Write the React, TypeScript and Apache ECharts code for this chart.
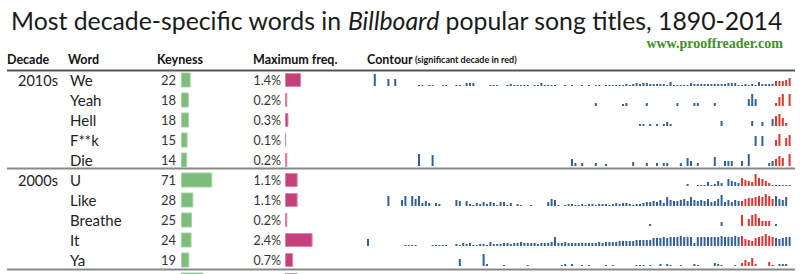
import React, { useEffect, useRef } from "react";
import * as echarts from "echarts";

// ---------- data ----------
const rowDecade = ["2010s", "", "", "", "", "2000s", "", "", "", "", ""];
const words = ["We", "Yeah", "Hell", "F**k", "Die", "U", "Like", "Breathe", "It", "Ya", ""];
const keyness = [22, 18, 18, 15, 14, 71, 28, 25, 24, 19, 51];
const maxFreq = [1.4, 0.2, 0.3, 0.1, 0.2, 1.1, 1.1, 0.2, 2.4, 0.7, 1.1];
const sigDecade = [2010, 2010, 2010, 2010, 2010, 2000, 2000, 2000, 2000, 2000];
const years: string[] = [];
for (let y = 1890; y <= 2014; y++) years.push(String(y));

// contour values, one per year 1890..2014 (relative, row max = 12)
const weContour = [
  0,0,12,0,0,0,7,0,7,0,
  0,0,0,0,0,1,1,0,1,1,
  0,0,1,1,0,0,1,1,0,3,
  3,3,0,0,0,0,1,1,1,0,
  0,1,2,1,1,1,1,1,0,1,
  1,3,1,1,1,1,0,0,1,0,
  1,0,0,1,0,1,0,1,1,0,
  1,1,1,1,1,1,2,1,2,3,
  2,3,3,2,2,2,2,2,1,4,
  1,1,1,1,1,3,2,2,2,2,
  2,2,2,2,2,2,3,3,3,1,
  1,2,1,2,1,4,2,2,2,2,
  5,5,5,6,8,
];
const yeahContour = [
  0,0,0,0,0,0,0,0,0,0,
  0,0,0,0,0,0,0,0,0,0,
  0,0,0,0,0,0,0,0,0,0,
  0,0,0,0,0,0,0,0,0,0,
  0,0,0,0,0,0,0,0,0,0,
  0,0,0,0,0,0,0,0,0,0,
  0,0,0,0,0,0,0,3,0,0,
  0,0,0,0,0,2,3,0,0,0,
  0,0,3,0,0,0,0,0,0,0,
  0,3,0,0,0,0,3,3,0,0,
  0,0,3,0,0,0,0,0,0,0,
  0,0,7,12,7,0,0,0,0,0,
  3,9,12,0,12,
];
const hellContour = [
  0,0,0,0,0,0,0,0,0,0,
  0,0,0,0,0,0,0,0,0,0,
  0,0,0,0,0,0,0,0,0,0,
  0,0,0,0,0,0,0,0,0,0,
  0,0,0,0,0,0,0,0,0,0,
  0,0,0,0,0,0,0,0,0,0,
  0,0,0,0,0,0,0,0,0,0,
  0,0,0,0,0,0,0,0,0,0,
  2,2,0,2,0,2,0,2,4,2,
  0,0,0,0,0,0,0,0,0,0,
  0,0,0,0,5,0,0,0,0,0,
  0,0,0,5,0,0,4,0,0,7,
  10,12,8,3,0,
];
const fkContour = [
  0,0,0,0,0,0,0,0,0,0,
  0,0,0,0,0,0,0,0,0,0,
  0,0,0,0,0,0,0,0,0,0,
  0,0,0,0,0,0,0,0,0,0,
  0,0,0,0,0,0,0,0,0,0,
  0,0,0,0,0,0,0,0,0,0,
  0,0,0,0,0,0,0,0,0,0,
  0,0,0,0,0,0,0,0,0,0,
  0,0,0,0,0,0,0,0,0,0,
  0,0,0,0,0,0,0,0,0,0,
  0,0,0,0,0,0,0,0,0,0,
  0,0,0,0,10,0,10,0,0,0,
  6,12,0,8,11,
];
const dieContour = [
  0,0,0,0,0,0,0,0,0,0,
  0,0,0,0,0,12,0,0,0,11,
  0,0,0,0,0,0,0,0,0,0,
  0,0,0,0,0,0,0,0,0,0,
  0,0,0,0,0,0,0,0,0,0,
  0,0,0,0,0,0,0,0,0,0,
  7,3,0,3,0,0,0,3,0,0,
  2,0,0,0,0,0,0,0,4,0,
  0,0,3,0,0,3,0,3,3,0,
  0,0,3,0,8,5,0,3,0,0,
  0,0,9,0,0,5,5,5,0,0,
  5,0,12,0,0,0,0,0,3,5,
  7,10,8,0,12,
];
const uContour = [
  0,0,0,0,0,0,0,0,0,0,
  0,0,0,0,0,0,0,0,0,0,
  0,0,0,0,0,0,0,0,0,0,
  0,0,0,0,0,0,0,0,0,0,
  0,0,0,0,0,0,0,0,0,0,
  0,0,0,0,0,0,0,0,0,0,
  0,0,0,0,0,0,0,0,0,0,
  0,0,0,0,0,0,0,0,0,0,
  0,0,0,0,0,0,0,0,0,0,
  0,0,0,0,2,0,0,1,1,1,
  4,1,2,5,3,0,7,5,4,3,
  8,6,5,4,12,8,7,5,3,1,
  1,1,1,1,1,
];
const likeContour = [
  0,0,0,0,0,0,10,0,0,0,
  6,10,0,10,7,10,3,5,3,0,
  3,2,0,0,0,0,6,5,0,5,
  2,1,3,2,4,2,4,3,1,4,
  4,1,3,0,2,1,0,0,1,0,
  0,0,0,4,7,6,1,0,1,2,
  2,1,1,2,1,2,2,1,2,2,
  2,1,2,3,2,3,3,2,1,2,
  2,3,4,4,5,4,6,3,9,6,
  5,5,6,7,5,9,6,5,6,5,
  7,4,5,7,11,4,6,4,6,5,
  5,7,8,8,9,10,9,12,10,7,
  10,7,6,9,0,
];
const breatheContour = [
  0,0,0,0,0,0,0,0,0,0,
  0,0,0,0,0,0,0,0,0,0,
  0,0,0,0,0,0,0,0,0,0,
  0,0,0,0,0,0,0,0,0,0,
  0,0,0,0,0,0,0,0,0,0,
  0,0,0,0,0,0,0,0,0,0,
  0,0,0,0,0,0,0,0,0,0,
  0,0,0,0,0,0,0,0,0,0,
  0,0,0,2,0,0,0,0,0,0,
  0,0,0,0,0,0,0,0,0,0,
  0,0,0,0,4,0,0,0,0,0,
  11,0,7,11,12,8,5,5,5,0,
  2,0,0,0,0,
];
const itContour = [
  7,0,0,0,0,0,0,0,0,0,
  0,1,1,1,1,0,0,0,0,1,
  1,1,1,1,0,0,2,1,3,2,
  3,1,1,2,2,1,4,2,2,2,
  3,3,2,3,3,4,3,3,3,3,
  2,3,3,3,4,9,3,3,4,3,
  3,3,3,3,3,3,3,3,4,3,
  4,4,4,4,5,5,5,5,5,6,
  6,6,6,6,8,8,8,9,8,9,
  9,9,10,9,9,9,3,9,9,9,
  9,9,9,9,10,9,9,9,10,9,
  10,7,6,5,8,9,10,12,10,9,
  8,7,8,9,9,
];
const yaContour = [
  0,0,0,0,0,0,0,0,0,0,
  0,0,0,0,0,0,0,0,0,0,
  0,0,0,0,0,0,0,7,0,0,
  0,0,0,0,12,2,0,0,0,0,
  1,0,0,0,0,0,0,1,0,0,
  0,0,0,0,0,0,0,1,2,0,
  2,0,0,1,0,1,0,0,0,0,
  1,0,1,0,0,0,0,0,0,1,
  1,1,0,1,0,0,2,0,2,1,
  0,0,1,0,0,0,2,1,0,0,
  0,0,3,2,1,0,0,0,1,0,
  3,6,4,8,2,0,0,0,4,1,
  0,2,2,2,0,
];
const contours = [
  weContour, yeahContour, hellContour, fkContour, dieContour,
  uContour, likeContour, breatheContour, itContour, yaContour,
];

// ---------- styles ----------
const FONT = "Lato, 'Open Sans', sans-serif";
const TEXT = "#222";
const GREEN = "#7dbd7d";
const PINK = "#c6407e";
const BLUE = "#34609a";
const RED = "#dd3530";

export default function App() {
  const ref = useRef<HTMLDivElement>(null);
  useEffect(() => {
    const chart = echarts.init(ref.current!, null, { renderer: "svg" });
    const rowIdx = words.map((_, i) => String(i));

    const grids: any[] = [
      { left: 181, top: 70, width: 44, height: 220, outerBoundsMode: "none" },
      { left: 285, top: 70, width: 115, height: 220, outerBoundsMode: "none" },
    ];
    const xAxes: any[] = [
      { type: "value", gridIndex: 0, min: 0, max: 100, show: false },
      { type: "value", gridIndex: 1, min: 0, max: 10, show: false },
    ];
    const yAxes: any[] = [
      {
        type: "category",
        gridIndex: 0,
        inverse: true,
        data: rowIdx,
        axisLine: { show: false },
        axisTick: { show: false },
        axisLabel: {
          interval: 0,
          align: "left",
          margin: 163,
          formatter: (_v: string, i: number) =>
            `{d|${rowDecade[i] || " "}}{w|${words[i] || " "}}`,
          rich: {
            d: { width: 52, fontSize: 14.5, fontFamily: FONT, color: TEXT },
            w: { fontSize: 15, fontFamily: FONT, color: TEXT },
          },
        },
      },
      {
        type: "category",
        gridIndex: 1,
        inverse: true,
        data: rowIdx,
        show: false,
      },
    ];
    const series: any[] = [
      {
        type: "bar",
        xAxisIndex: 0,
        yAxisIndex: 0,
        barWidth: 15,
        data: keyness.map((v, i) => ({
          value: v,
          label: { show: i < contours.length },
        })),
        itemStyle: { color: GREEN, borderColor: "#a6d3a6", borderWidth: 1 },
        label: {
          show: true,
          position: "left",
          distance: 5,
          fontSize: 13,
          fontFamily: FONT,
          color: "#333",
        },
      },
      {
        type: "bar",
        xAxisIndex: 1,
        yAxisIndex: 1,
        barWidth: 14,
        data: maxFreq.map((v, i) => ({
          value: v,
          label: { show: i < contours.length },
        })),
        itemStyle: { color: PINK, borderColor: "#dc85ad", borderWidth: 1 },
        label: {
          show: true,
          position: "left",
          distance: 4,
          fontSize: 12.5,
          fontFamily: FONT,
          color: "#333",
          formatter: (p: any) => `${Number(p.value).toFixed(1)}%`,
        },
      },
    ];

    contours.forEach((row, r) => {
      const baseline = 86 + 20 * r;
      const gi = grids.length;
      grids.push({
        left: 366.3,
        top: baseline - 12,
        width: 425,
        height: 12,
        outerBoundsMode: "none",
      });
      xAxes.push({
        type: "category",
        gridIndex: gi,
        data: years,
        show: false,
      });
      yAxes.push({ type: "value", gridIndex: gi, min: 0, max: 12, show: false });
      series.push({
        type: "bar",
        xAxisIndex: gi,
        yAxisIndex: gi,
        barWidth: 2,
        data: row.map((v, k) => {
          const yr = 1890 + k;
          const sig = yr >= sigDecade[r] && yr < sigDecade[r] + 10;
          return { value: v, itemStyle: { color: sig ? RED : BLUE } };
        }),
      });
    });

    const header = (text: string, x: number, size = 12.5) => ({
      type: "text",
      x,
      y: 59,
      style: {
        text,
        fill: "#111",
        font: `bold ${size}px ${FONT}`,
        verticalAlign: "middle",
      },
    });
    const hline = (y: number, color: string, w: number) => ({
      type: "line",
      shape: { x1: 7, y1: y, x2: 795, y2: y },
      style: { stroke: color, lineWidth: w },
    });

    chart.setOption({
      animation: false,
      backgroundColor: "#fff",
      title: {
        text: "{a|Most decade-specific words in }{b|Billboard}{a| popular song titles, 1890-2014}",
        left: 6,
        top: 3,
        textStyle: {
          fontWeight: "normal",
          rich: {
            a: { fontSize: 24.8, fontFamily: FONT, fontWeight: "normal", color: "#1a1a1a" },
            b: {
              fontSize: 24.8,
              fontFamily: FONT,
              fontWeight: "normal",
              fontStyle: "italic",
              color: "#1a1a1a",
            },
          },
        },
      },
      grid: grids,
      xAxis: xAxes,
      yAxis: yAxes,
      series,
      graphic: [
        {
          type: "text",
          x: 783,
          y: 43,
          style: {
            text: "www.prooffreader.com",
            fill: "#3f8f27",
            font: "bold 14px 'Liberation Serif', serif",
            align: "right",
            verticalAlign: "middle",
          },
        },
        header("Decade", 7),
        header("Word", 68),
        header("Keyness", 157),
        header("Maximum freq.", 253),
        header("Contour", 367),
        header("(significant decade in red)", 415, 9),
        hline(70.5, "#555", 2),
        hline(168.5, "#888", 2),
        hline(269.5, "#888", 2),
      ],
    });
    return () => chart.dispose();
  }, []);
  return (
    <div
      ref={ref}
      style={{ position: "fixed", left: 0, top: 0, width: 800, height: 274 }}
    />
  );
}
